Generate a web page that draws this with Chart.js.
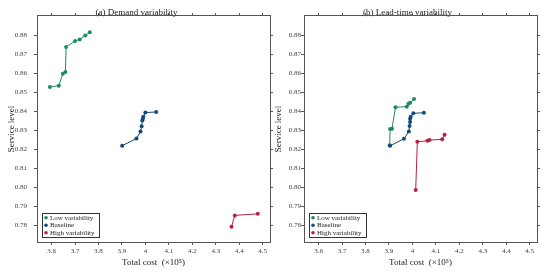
<!DOCTYPE html>
<html>
<head>
<meta charset="utf-8">
<script src="https://cdn.jsdelivr.net/npm/chart.js@4"></script>
<style>
  body { margin: 0; background: #fff; }
  canvas { position: absolute; top: 0; }
</style>
</head>
<body>
<canvas id="chartA" width="275" height="273" style="left:0"></canvas>
<canvas id="chartB" width="275" height="273" style="left:275px"></canvas>
<script>
// (a) demand variability
const demandLowCost = [3.593, 3.631, 3.648, 3.659, 3.662, 3.700, 3.720, 3.744, 3.763]
const demandLowLevel = [0.8527, 0.8533, 0.8596, 0.8605, 0.8737, 0.8768, 0.8777, 0.8798, 0.8814]
const demandBaseCost = [3.901, 3.962, 3.979, 3.984, 3.987, 3.989, 3.991, 4.000, 4.046]
const demandBaseLevel = [0.8218, 0.8255, 0.8292, 0.8320, 0.8350, 0.8360, 0.8370, 0.8392, 0.8395]
const demandHighCost = [4.367, 4.381, 4.479]
const demandHighLevel = [0.7791, 0.7851, 0.7859]

// (b) lead-time variability
const leadLowCost = [3.903, 3.905, 3.913, 3.928, 3.976, 3.983, 3.990, 4.007]
const leadLowLevel = [0.8220, 0.8305, 0.8307, 0.8420, 0.8423, 0.8438, 0.8444, 0.8463]
const leadBaseCost = [3.905, 3.964, 3.985, 3.988, 3.990, 3.990, 3.993, 4.004, 4.049]
const leadBaseLevel = [0.8217, 0.8254, 0.8293, 0.8321, 0.8342, 0.8359, 0.8370, 0.8388, 0.8391]
const leadHighCost = [4.014, 4.021, 4.064, 4.073, 4.127, 4.137]
const leadHighLevel = [0.7984, 0.8238, 0.8244, 0.8247, 0.8251, 0.8275]

const seriesNames = ['Low variability', 'Baseline', 'High variability']
const seriesColors = ['#1f8a60', '#134a79', '#b3243c']

const xTicks = [3.6, 3.7, 3.8, 3.9, 4.0, 4.1, 4.2, 4.3, 4.4, 4.5]
const yTicks = [0.78, 0.79, 0.80, 0.81, 0.82, 0.83, 0.84, 0.85, 0.86, 0.87, 0.88]

const serif = "'Liberation Serif', 'Times New Roman', serif"
const axisColor = '#555'

function points(xs, ys) {
  return xs.map((x, i) => ({ x: x, y: ys[i] }))
}

function dataset(i, xs, ys) {
  return {
    label: seriesNames[i],
    data: points(xs, ys),
    showLine: true,
    borderColor: seriesColors[i],
    backgroundColor: seriesColors[i],
    borderWidth: 1,
    pointRadius: 2,
    pointBorderWidth: 0,
    order: 2 - i
  }
}

// legend box in the lower left corner of the plot
const boxLegend = {
  id: 'boxLegend',
  afterDatasetsDraw(chart) {
    const ctx = chart.ctx
    const area = chart.chartArea
    const sets = chart.data.datasets
    ctx.save()
    ctx.font = '7px ' + serif
    let w = 0
    sets.forEach(d => { w = Math.max(w, ctx.measureText(d.label).width) })
    const bw = Math.round(w + 12)
    const bh = 24
    const left = area.left + 5
    const top = area.bottom - 5 - bh
    ctx.fillStyle = '#fff'
    ctx.fillRect(left, top, bw, bh)
    ctx.strokeStyle = '#333'
    ctx.lineWidth = 1
    ctx.strokeRect(left + 0.5, top + 0.5, bw, bh)
    ctx.textBaseline = 'middle'
    sets.forEach((d, i) => {
      const y = top + 4.7 + i * 7.5
      ctx.fillStyle = d.borderColor
      ctx.beginPath()
      ctx.arc(left + 4, y, 1.8, 0, Math.PI * 2)
      ctx.fill()
      ctx.fillStyle = '#222'
      ctx.fillText(d.label, left + 8, y)
    })
    ctx.restore()
  }
}

function makeChart(id, title, sets, leftW, rightPad, labelPad, yTitlePad) {
  const plain = { drawOnChartArea: false, tickLength: 3, color: axisColor }
  const border = { color: axisColor, width: 1 }
  return new Chart(document.getElementById(id), {
    type: 'scatter',
    data: { datasets: sets },
    options: {
      responsive: false,
      animation: false,
      layout: { padding: { left: 0, right: rightPad, top: 0, bottom: 0 } },
      plugins: {
        legend: { display: false },
        tooltip: { enabled: false },
        title: {
          display: true,
          text: title,
          color: '#222',
          font: { family: serif, size: 9, weight: 'normal' },
          padding: { top: 7.6, bottom: -5.4 }
        }
      },
      scales: {
        x: {
          type: 'linear',
          min: 3.538,
          max: 4.531,
          grid: plain,
          border: border,
          afterBuildTicks: s => { s.ticks = xTicks.map(v => ({ value: v })) },
          afterFit: s => { s.height = 31 },
          ticks: {
            color: '#444',
            padding: 2,
            maxRotation: 0,
            font: { family: serif, size: 7 },
            callback: v => String(+v.toFixed(1))
          },
          title: {
            display: true,
            text: 'Total cost  (×10⁵)',
            color: '#222',
            font: { family: serif, size: 9 },
            padding: { top: 0, bottom: 4.5 }
          }
        },
        x2: {
          type: 'linear',
          position: 'top',
          min: 3.538,
          max: 4.531,
          grid: plain,
          border: border,
          afterBuildTicks: s => { s.ticks = xTicks.map(v => ({ value: v })) },
          afterFit: s => { s.height = 3 },
          ticks: { display: false }
        },
        y: {
          type: 'linear',
          min: 0.7711,
          max: 0.89,
          grid: plain,
          border: border,
          afterBuildTicks: s => { s.ticks = yTicks.map(v => ({ value: v })) },
          afterFit: s => { s.width = leftW },
          ticks: {
            color: '#444',
            padding: labelPad,
            font: { family: serif, size: 7 },
            callback: v => v.toFixed(2)
          },
          title: {
            display: true,
            text: 'Service level',
            color: '#222',
            font: { family: serif, size: 9 },
            padding: { top: yTitlePad, bottom: 0 }
          }
        },
        y2: {
          type: 'linear',
          position: 'right',
          min: 0.7711,
          max: 0.89,
          grid: plain,
          border: border,
          afterBuildTicks: s => { s.ticks = yTicks.map(v => ({ value: v })) },
          afterFit: s => { s.width = 3 },
          ticks: { display: false }
        }
      }
    },
    plugins: [boxLegend]
  })
}

const chartA = makeChart('chartA', '(a) Demand variability', [
  dataset(0, demandLowCost, demandLowLevel),
  dataset(1, demandBaseCost, demandBaseLevel),
  dataset(2, demandHighCost, demandHighLevel)
], 37, 2, 7, 6.5)

const chartB = makeChart('chartB', '(b) Lead-time variability', [
  dataset(0, leadLowCost, leadLowLevel),
  dataset(1, leadBaseCost, leadBaseLevel),
  dataset(2, leadHighCost, leadHighLevel)
], 29, 10, 0, -2)
</script>
</body>
</html>
